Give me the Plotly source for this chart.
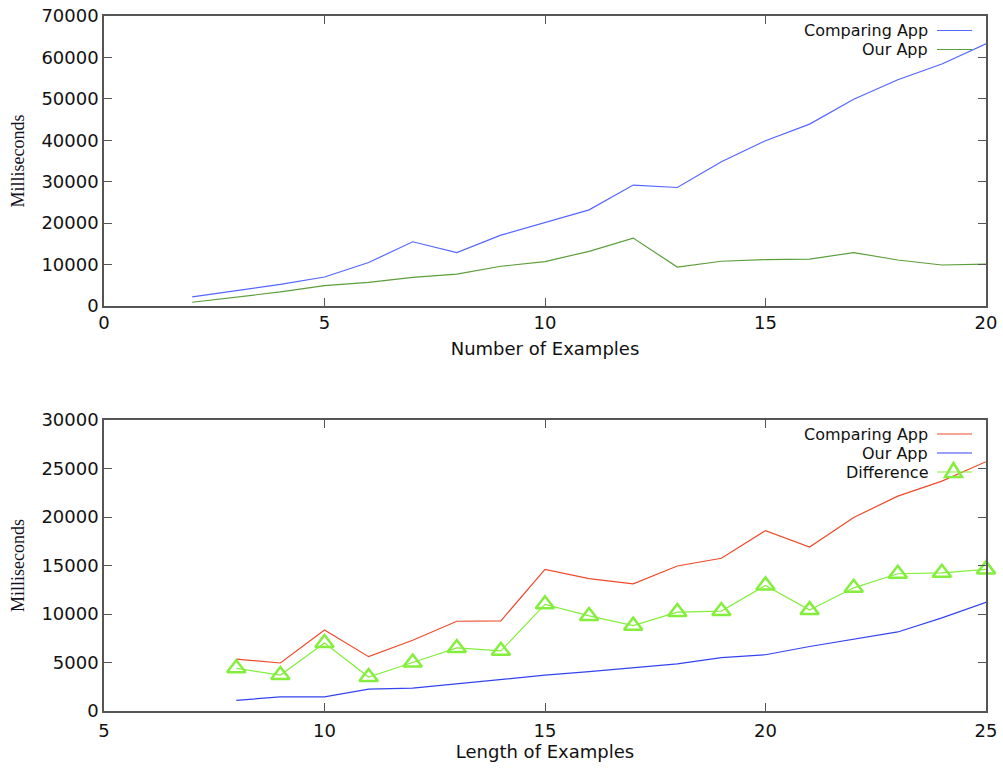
import plotly.graph_objects as go
from plotly.subplots import make_subplots

# ---- data: top chart (Number of Examples) ----
num_examples = list(range(2, 21))
top_comparing = [2200, 3700, 5200, 7000, 10500, 15500, 12900, 17100, 20100, 23200,
                 29200, 28600, 34800, 39900, 43900, 49900, 54600, 58400, 63300]
top_ours = [900, 2100, 3400, 4900, 5700, 6900, 7700, 9600, 10700, 13200,
            16400, 9400, 10800, 11200, 11300, 12900, 11100, 9900, 10100]

# ---- data: bottom chart (Length of Examples) ----
len_examples = list(range(8, 26))
bot_comparing = [5350, 4950, 8350, 5600, 7300, 9250, 9300, 14600, 13650, 13100,
                 14950, 15750, 18600, 16900, 19950, 22150, 23700, 25700]
bot_ours = [1100, 1450, 1450, 2250, 2350, 2800, 3200, 3700, 4050, 4450,
            4850, 5500, 5800, 6650, 7400, 8150, 9600, 11200]
bot_diff = [4400, 3700, 7000, 3500, 5000, 6500, 6200, 11000, 9800, 8800,
            10200, 10300, 12950, 10400, 12700, 14150, 14250, 14600]

# ---- styles ----
C_TOP_CMP = "#5566ff"
C_TOP_OUR = "#5c9e3c"
C_BOT_CMP = "#ee4a2a"
C_BOT_OUR = "#3344ee"
C_DIFF = "#84ee3c"
FONT = "DejaVu Sans"

W, H = 1003, 769
ML, MR, MT, MB = 104, 17, 16, 58
PW, PH = W - ML - MR, H - MT - MB


def px_x(p):
    return (p - ML) / PW


def px_y(p):
    return (H - MB - p) / PH


fig = make_subplots(rows=2, cols=1, vertical_spacing=0.1)

fig.add_trace(go.Scatter(x=num_examples, y=top_comparing, mode="lines", name="Comparing App",
                         line=dict(color=C_TOP_CMP, width=1.2)), row=1, col=1)
fig.add_trace(go.Scatter(x=num_examples, y=top_ours, mode="lines", name="Our App",
                         line=dict(color=C_TOP_OUR, width=1.2)), row=1, col=1)
fig.add_trace(go.Scatter(x=len_examples, y=bot_comparing, mode="lines", name="Comparing App",
                         line=dict(color=C_BOT_CMP, width=1.2)), row=2, col=1)
fig.add_trace(go.Scatter(x=len_examples, y=bot_ours, mode="lines", name="Our App",
                         line=dict(color=C_BOT_OUR, width=1.2)), row=2, col=1)
fig.add_trace(go.Scatter(x=len_examples, y=bot_diff, mode="lines+markers", name="Difference",
                         line=dict(color=C_DIFF, width=1.2), cliponaxis=False,
                         marker=dict(symbol="triangle-up-open", size=16,
                                     color=C_DIFF, line=dict(color=C_DIFF, width=2.5))),
              row=2, col=1)

axis_common = dict(showline=True, linecolor="#555555", linewidth=1.5, mirror="ticks",
                   ticks="inside", ticklen=8, tickwidth=1.2, tickcolor="#555555",
                   showgrid=False, zeroline=False, automargin=False,
                   tickfont=dict(family=FONT, size=18, color="#111111"))

top_dom = [px_y(306), 1.0]
bot_dom = [0.0, px_y(420)]

fig.update_xaxes(**axis_common)
fig.update_yaxes(**axis_common, tickformat="d")

fig.update_xaxes(range=[0, 20], dtick=5, tick0=0, domain=[0, 1], row=1, col=1,
                 title=dict(text="Number of Examples", font=dict(family=FONT, size=18, color="#111111"),
                            standoff=10))
fig.update_yaxes(range=[0, 70000], dtick=10000, tick0=0, domain=top_dom, row=1, col=1,
                 title=dict(text="Milliseconds", font=dict(family="Liberation Serif", size=18, color="#111122"),
                            standoff=12))
fig.update_xaxes(range=[5, 25], dtick=5, tick0=5, domain=[0, 1], row=2, col=1,
                 ticklabelstandoff=3,
                 title=dict(text="Length of Examples", font=dict(family=FONT, size=18, color="#111111"),
                            standoff=5))
fig.update_yaxes(range=[0, 30000], dtick=5000, tick0=0, domain=bot_dom, row=2, col=1,
                 title=dict(text="Milliseconds", font=dict(family="Liberation Serif", size=18, color="#111122"),
                            standoff=12))

# ---- custom gnuplot-style legends (text right-aligned, sample on the right) ----
annotations = []
shapes = []
tx = px_x(929)
lx0, lx1 = px_x(937), px_x(972)

legend_items = [
    ("Comparing App", C_TOP_CMP, 30.5, False),
    ("Our App", C_TOP_OUR, 49.5, False),
    ("Comparing App", C_BOT_CMP, 434, False),
    ("Our App", C_BOT_OUR, 453, False),
    ("Difference", C_DIFF, 472, True),
]
for text, color, py, tri in legend_items:
    yy = px_y(py)
    annotations.append(dict(x=tx, y=yy, xref="paper", yref="paper", text=text,
                            showarrow=False, xanchor="right", yanchor="middle",
                            borderpad=0,
                            font=dict(family=FONT, size=16, color="#111111")))
    shapes.append(dict(type="line", xref="paper", yref="paper", x0=lx0, x1=lx1, y0=yy, y1=yy,
                       line=dict(color=color, width=1.2)))
    if tri:
        shapes.append(dict(type="path", xref="paper", yref="paper",
                           xsizemode="pixel", ysizemode="pixel",
                           xanchor=px_x(953.5), yanchor=yy,
                           path="M -8.5,-5 L 8.5,-5 L 0,9 Z",
                           line=dict(color=color, width=2.5), fillcolor="rgba(0,0,0,0)"))

fig.update_layout(width=W, height=H, margin=dict(l=ML, r=MR, t=MT, b=MB, autoexpand=False),
                  plot_bgcolor="white", paper_bgcolor="white", showlegend=False,
                  annotations=annotations, shapes=shapes,
                  font=dict(family=FONT, size=18, color="#111111"))

fig.write_html("out.html")
